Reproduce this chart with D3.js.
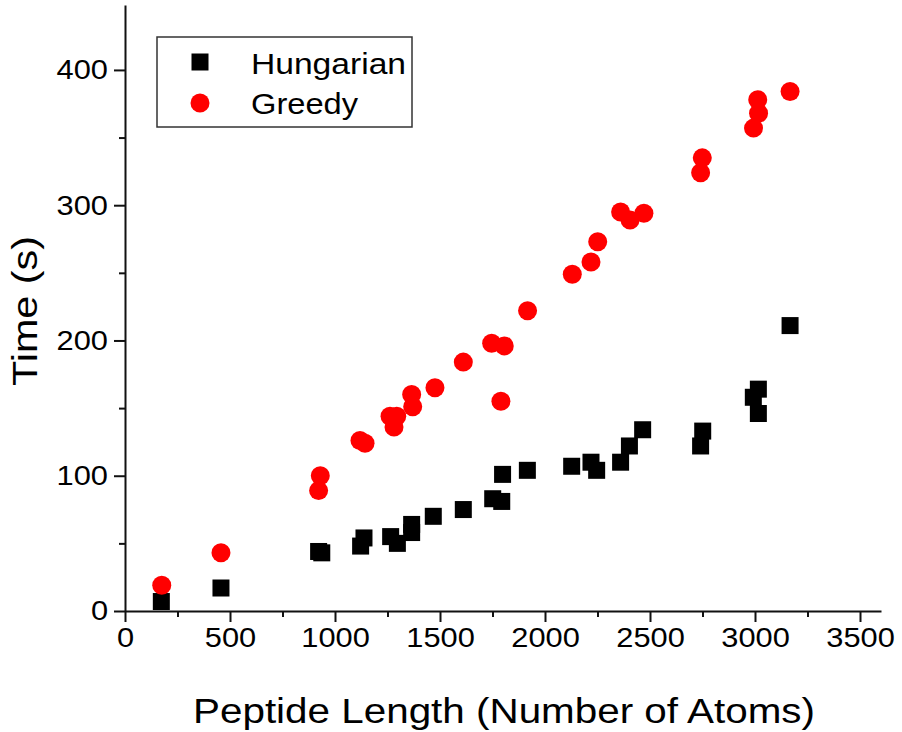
<!DOCTYPE html>
<html>
<head>
<meta charset="utf-8">
<script src="https://cdn.jsdelivr.net/npm/d3@7"></script>
<style>
  html, body { margin: 0; padding: 0; background: #fff; }
  svg { display: block; font-family: "Liberation Sans", Arial, sans-serif; }
</style>
</head>
<body>
<svg id="chart" width="902" height="732"></svg>
<script>
// ---- data ----
const hungarianX = [173, 457, 922, 937, 1122, 1138, 1265, 1297, 1365, 1365, 1468, 1611, 1751, 1794, 1798, 1916, 2127, 2219, 2246, 2360, 2402, 2465, 2741, 2751, 2992, 3016, 3016, 3167];
const hungarianY = [7, 17, 44, 43, 48, 54, 55, 50, 64, 58, 70, 75, 83, 81, 101, 104, 107, 110, 104, 110, 122, 134, 122, 133, 158, 164, 146, 211];
const greedyX = [175, 457, 922, 930, 1119, 1143, 1262, 1294, 1281, 1370, 1365, 1476, 1611, 1746, 1806, 1790, 1917, 2130, 2219, 2251, 2360, 2405, 2471, 2741, 2749, 2993, 3017, 3013, 3167];
const greedyY = [19, 43, 89, 100, 126, 124, 144, 144, 136, 151, 160, 165, 184, 198, 196, 155, 222, 249, 258, 273, 295, 289, 294, 324, 335, 357, 368, 378, 384];
const xTicks = [0, 500, 1000, 1500, 2000, 2500, 3000, 3500];
const xMinor = [250, 750, 1250, 1750, 2250, 2750, 3250];
const yTicks = [0, 100, 200, 300, 400];
const yMinor = [50, 150, 250, 350];
const seriesNames = ["Hungarian", "Greedy"];
const xTitle = "Peptide Length (Number of Atoms)";
const yTitle = "Time (s)";

const svg = d3.select("#chart");
const x = d3.scaleLinear().domain([0, 3600]).range([125, 881]);
const y = d3.scaleLinear().domain([0, 448]).range([611, 5]);

const stretch = 1.1;
function widen(sel, f) {
  sel.each(function() {
    const w = this.getComputedTextLength();
    d3.select(this).attr("textLength", w * f).attr("lengthAdjust", "spacingAndGlyphs");
  });
}

// minor ticks
svg.append("g").attr("transform", "translate(0,611)")
  .call(d3.axisBottom(x).tickValues(xMinor).tickSize(6).tickFormat(""))
  .call(g => g.select(".domain").remove())
  .call(g => g.selectAll("line").attr("stroke", "#111").attr("stroke-width", 2));
svg.append("g").attr("transform", "translate(125,0)")
  .call(d3.axisLeft(y).tickValues(yMinor).tickSize(6).tickFormat(""))
  .call(g => g.select(".domain").remove())
  .call(g => g.selectAll("line").attr("stroke", "#111").attr("stroke-width", 2));

// major axes
const gx = svg.append("g").attr("transform", "translate(0,611)")
  .call(d3.axisBottom(x).tickValues(xTicks).tickFormat(d3.format("d")).tickSize(11).tickSizeOuter(0).tickPadding(5));
gx.select(".domain").attr("stroke", "#111").attr("stroke-width", 2);
gx.selectAll("line").attr("stroke", "#111").attr("stroke-width", 2);
gx.selectAll("text").attr("font-size", 28).attr("fill", "#000")
  .attr("font-family", "'Liberation Sans', Arial, sans-serif");
widen(gx.selectAll("text"), stretch);

const gy = svg.append("g").attr("transform", "translate(125,0)")
  .call(d3.axisLeft(y).tickValues(yTicks).tickFormat(d3.format("d")).tickSize(11).tickSizeOuter(0).tickPadding(6));
gy.select(".domain").attr("stroke", "#111").attr("stroke-width", 2);
gy.selectAll("line").attr("stroke", "#111").attr("stroke-width", 2);
gy.selectAll("text").attr("font-size", 28).attr("fill", "#000")
  .attr("font-family", "'Liberation Sans', Arial, sans-serif");
widen(gy.selectAll("text"), stretch);

// data marks
const hData = hungarianX.map((v, i) => [v, hungarianY[i]]);
const gData = greedyX.map((v, i) => [v, greedyY[i]]);
const sq = 17;
svg.append("g").selectAll("rect").data(hData).join("rect")
  .attr("x", d => x(d[0]) - sq / 2).attr("y", d => y(d[1]) - sq / 2)
  .attr("width", sq).attr("height", sq).attr("fill", "#000");
svg.append("g").selectAll("circle").data(gData).join("circle")
  .attr("cx", d => x(d[0])).attr("cy", d => y(d[1])).attr("r", 9.5).attr("fill", "#ff0000");

// axis titles
svg.append("text").attr("x", 504).attr("y", 723).attr("text-anchor", "middle")
  .attr("font-size", 35).attr("fill", "#000").text(xTitle)
  .attr("textLength", 622).attr("lengthAdjust", "spacingAndGlyphs");
svg.append("text").attr("transform", "translate(37,311) rotate(-90)").attr("text-anchor", "middle")
  .attr("font-size", 35).attr("fill", "#000").text(yTitle)
  .attr("textLength", 150).attr("lengthAdjust", "spacingAndGlyphs");

// legend
const lg = svg.append("g");
lg.append("rect").attr("x", 157).attr("y", 37).attr("width", 255).attr("height", 90)
  .attr("fill", "#fff").attr("stroke", "#333").attr("stroke-width", 1.5);
lg.append("rect").attr("x", 200 - sq / 2).attr("y", 62 - sq / 2).attr("width", sq).attr("height", sq).attr("fill", "#000");
lg.append("circle").attr("cx", 200).attr("cy", 103).attr("r", 9.5).attr("fill", "#ff0000");
lg.append("text").attr("x", 251).attr("y", 74).attr("font-size", 30).attr("fill", "#000")
  .text(seriesNames[0]).attr("textLength", 155).attr("lengthAdjust", "spacingAndGlyphs");
lg.append("text").attr("x", 251).attr("y", 114).attr("font-size", 30).attr("fill", "#000")
  .text(seriesNames[1]).attr("textLength", 107).attr("lengthAdjust", "spacingAndGlyphs");
</script>
</body>
</html>
